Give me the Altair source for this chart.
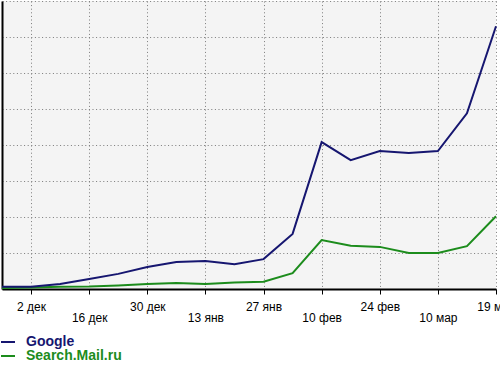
import altair as alt
import pandas as pd

# data (index of weekly points, values in grid units)
idx = list(range(18))
google = [0.06, 0.06, 0.14, 0.28, 0.42, 0.61, 0.75, 0.78, 0.69, 0.83,
          1.53, 4.08, 3.58, 3.83, 3.78, 3.83, 4.88, 7.30]
mail = [0.03, 0.04, 0.06, 0.07, 0.10, 0.14, 0.17, 0.14, 0.18, 0.20,
        0.44, 1.36, 1.20, 1.17, 1.00, 1.00, 1.19, 2.02]
tick_idx = [1, 3, 5, 7, 9, 11, 13, 15, 17]
tick_labels = ["2 дек", "16 дек", "30 дек", "13 янв", "27 янв",
               "10 фев", "24 фев", "10 мар", "19 мар"]
series_names = ["Google", "Search.Mail.ru"]
colors = ["#161670", "#1c8c1c"]

rows = []
for i, g, m in zip(idx, google, mail):
    rows.append({"i": i, "v": g, "series": series_names[0]})
    rows.append({"i": i, "v": m, "series": series_names[1]})
df = pd.DataFrame(rows)

label_map = "{" + ",".join(f"'{t}':'{l}'" for t, l in zip(tick_idx, tick_labels)) + "}"
label_expr = f"{label_map}[''+datum.value]"

FONT = "Liberation Sans"
GRID = dict(grid=True, gridColor="#7a7a7a", gridDash=[1, 2.6], gridWidth=1)

x_axis = alt.Axis(values=tick_idx, labelExpr=label_expr, title=None,
                  domainColor="black", domainWidth=2,
                  tickColor="black", tickSize=5, tickWidth=1,
                  labelFont=FONT, labelFontSize=12, labelColor="black",
                  labelBaseline="top", labelOverlap=False, labelFlush=False,
                  labelPadding={"condition": {"test": "datum.value % 4 == 3", "value": 18}, "value": 7},
                  **GRID)
y_axis = alt.Axis(values=list(range(9)), title=None, labels=False, ticks=False,
                  domainColor="black", domainWidth=2, **GRID)

x = alt.X("i:Q", scale=alt.Scale(domain=[0, 17], nice=False, zero=False), axis=x_axis)
y = alt.Y("v:Q", scale=alt.Scale(domain=[0, 8], nice=False), axis=y_axis)


def layer(k, ly):
    return alt.Chart(df).transform_filter(
        alt.datum.series == series_names[k]
    ).mark_line(strokeWidth=2).encode(
        x=x, y=y,
        color=alt.Color("series:N",
                        scale=alt.Scale(domain=[series_names[k]], range=[colors[k]]),
                        legend=alt.Legend(orient="none", legendX=-2, legendY=ly, title=None,
                                          symbolType="stroke", symbolSize=196,
                                          symbolStrokeWidth=2, labelFont=FONT,
                                          labelFontSize=14, labelFontWeight="bold",
                                          labelColor=colors[k], labelOffset=10,
                                          padding=0))
    )


chart = alt.layer(layer(1, 347), layer(0, 333)).resolve_scale(
    color="independent"
).properties(
    width=494, height=288,
    autosize=alt.AutoSizeParams(type="none"),
    padding={"left": 2, "top": 1, "right": 4, "bottom": 78},
    background="white",
).configure_view(fill="#f4f4f4", strokeWidth=0)

chart.save("out.html", embed_options={"renderer": "svg", "actions": False})
